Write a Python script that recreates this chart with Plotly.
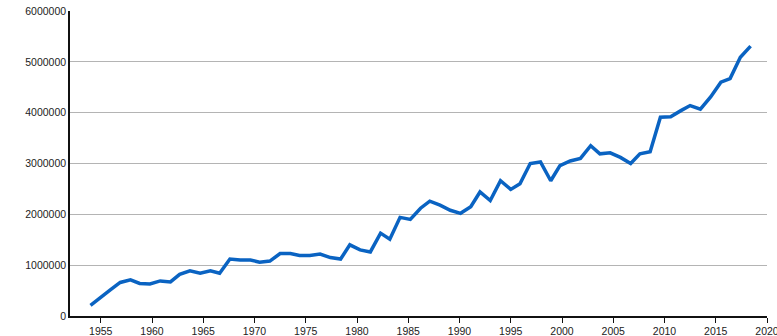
import plotly.graph_objects as go

# x positions (fractional years)
years = [1954.0, 1954.9, 1955.9, 1956.9, 1957.9, 1958.8, 1959.8, 1960.8, 1961.8, 1962.7,
         1963.7, 1964.7, 1965.7, 1966.6, 1967.6, 1968.6, 1969.6, 1970.5, 1971.5, 1972.5,
         1973.5, 1974.4, 1975.4, 1976.4, 1977.4, 1978.4, 1979.3, 1980.3, 1981.3, 1982.3,
         1983.2, 1984.2, 1985.2, 1986.2, 1987.1, 1988.1, 1989.1, 1990.1, 1991.1, 1992.0,
         1993.0, 1994.0, 1995.0, 1995.9, 1996.9, 1997.9, 1998.9, 1999.8, 2000.8, 2001.8,
         2002.8, 2003.7, 2004.7, 2005.7, 2006.7, 2007.6, 2008.6, 2009.6, 2010.6, 2011.6,
         2012.5, 2013.5, 2014.5, 2015.5, 2016.4, 2017.4, 2018.4]

values = [210000, 360000, 510000, 660000, 710000, 640000, 630000, 690000, 670000, 820000,
          890000, 840000, 890000, 840000, 1120000, 1100000, 1100000, 1060000, 1080000, 1230000,
          1230000, 1190000, 1190000, 1220000, 1150000, 1120000, 1400000, 1300000, 1260000, 1630000,
          1510000, 1940000, 1900000, 2120000, 2260000, 2180000, 2080000, 2020000, 2150000, 2440000,
          2270000, 2660000, 2490000, 2600000, 3000000, 3030000, 2660000, 2960000, 3050000, 3100000,
          3350000, 3190000, 3210000, 3120000, 3000000, 3190000, 3230000, 3910000, 3920000, 4040000,
          4140000, 4070000, 4310000, 4600000, 4670000, 5090000, 5310000]

x_ticks = [1955, 1960, 1965, 1970, 1975, 1980, 1985, 1990, 1995, 2000, 2005, 2010, 2015, 2020]
y_ticks = [0, 1000000, 2000000, 3000000, 4000000, 5000000, 6000000]

fig = go.Figure()
fig.add_trace(go.Scatter(
    x=years, y=values, mode="lines",
    line=dict(color="#0a63c2", width=3.5),
    hoverinfo="x+y",
))

font = dict(family="Liberation Sans, Arial, sans-serif", size=10.5, color="#222222")

fig.update_layout(
    width=777, height=336,
    margin=dict(l=70, r=10, t=11, b=20, autoexpand=False),
    paper_bgcolor="white", plot_bgcolor="white",
    showlegend=False,
    font=font,
    xaxis=dict(
        range=[1952, 2020], automargin=False,
        tickmode="array", tickvals=x_ticks, ticktext=[str(t) for t in x_ticks],
        ticklabeloverflow="allow",
        showgrid=False, zeroline=False,
        showline=True, linecolor="#111111", linewidth=1.5,
        ticks="outside", ticklen=5, tickcolor="#111111", tickwidth=1,
        tickfont=font,
    ),
    yaxis=dict(
        range=[0, 6000000], automargin=False,
        tickmode="array", tickvals=y_ticks, ticktext=[str(t) for t in y_ticks],
        showgrid=True, gridcolor="#b4b4b4", gridwidth=1,
        zeroline=False,
        showline=True, linecolor="#111111", linewidth=1.5,
        ticks="", tickfont=font,
    ),
)

fig.write_html(
    "out.html",
    config={"displayModeBar": False},
    post_script="document.body.style.margin='0';document.body.style.padding='0';document.body.style.overflow='hidden';",
)
